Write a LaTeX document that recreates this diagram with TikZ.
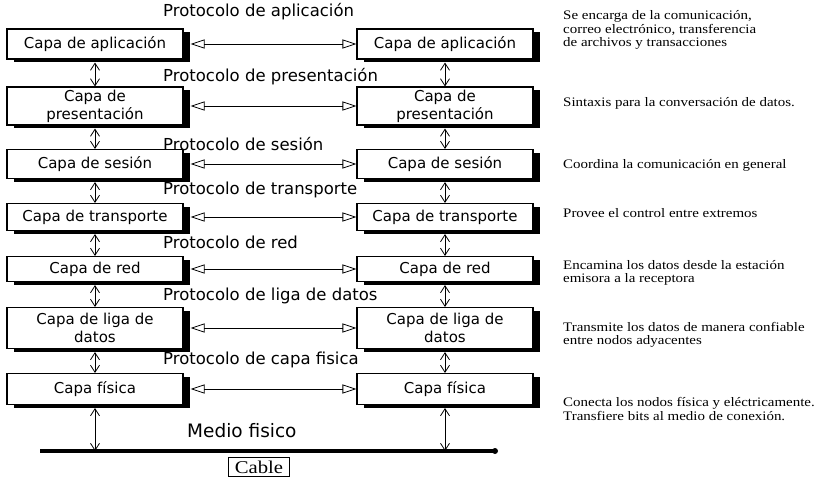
\documentclass[tikz,border=0pt]{standalone}
\usepackage{fontspec}
\setmainfont{DejaVu Sans}
\newfontfamily\descfont[FakeStretch=1.15]{Liberation Serif}
\usetikzlibrary{arrows.meta,shadows}
\begin{document}
\begin{tikzpicture}[x=1pt,y=-1pt,
  layer/.style={draw=black, line width=1.1pt, fill=white, minimum width=176pt,
    inner sep=0pt, align=center, font=\fontsize{15}{18}\selectfont,
    drop shadow={shadow xshift=7pt, shadow yshift=-3pt, fill=black, opacity=1}},
  proto/.style={anchor=west, inner sep=0pt, font=\fontsize{16.5}{18}\selectfont},
  desc/.style={anchor=west, align=left, inner sep=0pt, font=\descfont\fontsize{13}{13.5}\selectfont},
  harrow/.style={line width=0.8pt, {Triangle[open,length=14pt,width=9pt]}-{Triangle[open,length=14pt,width=9pt]}},
  varrow/.style={line width=0.8pt, {Straight Barb[length=7pt,width=9pt]}-{Straight Barb[length=7pt,width=9pt]}},
]
\useasboundingbox (0,0) rectangle (827,479);

% layers (left / right)
\node[layer, minimum height=30pt] (L1) at (95,44) {Capa de aplicación};
\node[layer, minimum height=30pt] (R1) at (445,44) {Capa de aplicación};
\node[layer, minimum height=38pt] (L2) at (95,106) {Capa de\\presentación};
\node[layer, minimum height=38pt] (R2) at (445,106) {Capa de\\presentación};
\node[layer, minimum height=29pt] (L3) at (95,164) {Capa de sesión};
\node[layer, minimum height=29pt] (R3) at (445,164) {Capa de sesión};
\node[layer, minimum height=27pt] (L4) at (95,217) {Capa de transporte};
\node[layer, minimum height=27pt] (R4) at (445,217) {Capa de transporte};
\node[layer, minimum height=25pt] (L5) at (95,269) {Capa de red};
\node[layer, minimum height=25pt] (R5) at (445,269) {Capa de red};
\node[layer, minimum height=41pt] (L6) at (95,328) {Capa de liga de\\datos};
\node[layer, minimum height=41pt] (R6) at (445,328) {Capa de liga de\\datos};
\node[layer, minimum height=31pt] (L7) at (95,389) {Capa física};
\node[layer, minimum height=31pt] (R7) at (445,389) {Capa física};

% protocol labels
\node[proto] (p1) at (163,12) {Protocolo de aplicación};
\node[proto] (p2) at (163,77) {Protocolo de presentación};
\node[proto] (p3) at (163,144) {Protocolo de sesión};
\node[proto] (p4) at (163,190) {Protocolo de transporte};
\node[proto] (p5) at (163,242) {Protocolo de red};
\node[proto] (p6) at (163,296) {Protocolo de liga de datos};
\node[proto] (p7) at (163,360) {Protocolo de capa fisica};
\node[anchor=west, inner sep=0pt, font=\fontsize{18.5}{20}\selectfont] (medio) at (187,431) {Medio fisico};

% horizontal peer arrows
\foreach \i in {1,...,7}{
  \draw[harrow] ([xshift=7pt]L\i.east) -- (R\i.west);
}
% vertical arrows
\foreach \i/\j in {1/2,2/3,3/4,4/5,5/6,6/7}{
  \draw[varrow] ([yshift=-3pt]L\i.south) -- (L\j.north);
  \draw[varrow] ([yshift=-3pt]R\i.south) -- (R\j.north);
}

% cable
\coordinate (c1) at (40,451);
\coordinate (c2) at (495,451);
\draw[line width=3.5pt] (c1) -- (c2);
\fill (c2) circle (3pt);
\draw[varrow] ([yshift=-3pt]L7.south) -- (L7.south |- c1);
\draw[varrow] ([yshift=-3pt]R7.south) -- (R7.south |- c1);
\node[draw, line width=0.8pt, inner xsep=6pt, inner ysep=3.5pt, font=\descfont\fontsize{18}{19}\selectfont] (cable) at (259,467) {Cable};

% descriptions
\node[desc] (d1) at (563,30) {Se encarga de la comunicación,\\correo electrónico, transferencia\\de archivos y transacciones};
\node[desc] (d2) at (563,103) {Sintaxis para la conversación de datos.};
\node[desc] (d3) at (563,165) {Coordina la comunicación en general};
\node[desc] (d4) at (563,213) {Provee el control entre extremos};
\node[desc] (d5) at (563,273) {Encamina los datos desde la estación\\emisora a la receptora};
\node[desc] (d6) at (563,335) {Transmite los datos de manera confiable\\entre nodos adyacentes};
\node[desc] (d7) at (563,409) {Conecta los nodos física y eléctricamente.\\Transfiere bits al medio de conexión.};
\end{tikzpicture}
\end{document}
